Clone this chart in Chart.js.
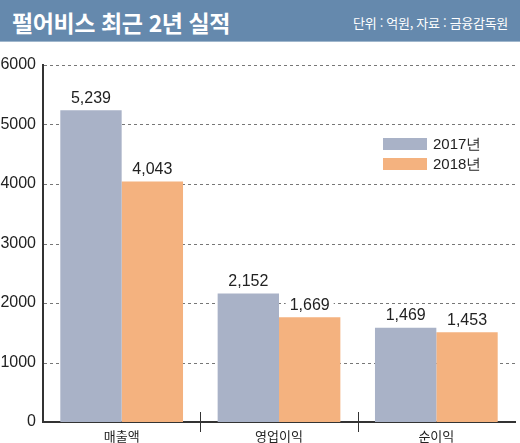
<!DOCTYPE html>
<html lang="ko">
<head>
<meta charset="utf-8">
<script src="https://cdn.jsdelivr.net/npm/chart.js@4"></script>
<style>
  html, body { margin: 0; padding: 0; background: #fff; }
  body { width: 520px; height: 443px; overflow: hidden; font-family: "Liberation Sans", "Noto Sans CJK KR", sans-serif; }
  .head { height: 41px; background: #6589ad; border-bottom: 1px solid #9fb6cc; position: relative; color: #fff; }
  .head h1 { margin: 0; position: absolute; left: 12px; top: 5px; font: bold 23px "Noto Sans CJK KR", sans-serif; letter-spacing: -0.4px; }
  .head span { position: absolute; right: 12px; top: 13px; font: 13px "Noto Sans CJK KR", sans-serif; letter-spacing: -0.3px; }
  .wrap { position: relative; width: 520px; height: 401px; }
</style>
</head>
<body>
<div class="head"><h1>펄어비스 최근 2년 실적</h1><span>단위 : 억원, 자료 : 금융감독원</span></div>
<div class="wrap"><canvas id="chart"></canvas></div>
<script>
const categories = ['매출액', '영업이익', '순이익'];
const seriesNames = ['2017년', '2018년'];
// bar heights as drawn in the picture
const bars2017 = [5239, 2160, 1585];
const bars2018 = [4043, 1760, 1507];
// printed value labels
const labels2017 = ['5,239', '2,152', '1,469'];
const labels2018 = ['4,043', '1,669', '1,453'];
const yTicks = [0, 1000, 2000, 3000, 4000, 5000, 6000];

const colores = ['#a9b2c7', '#f4b27f'];
const numFont = '"Liberation Sans", Arial, sans-serif';
const korFont = '"Noto Sans CJK KR", sans-serif';

// líneas punteadas detrás de las barras
const rejilla = {
  id: 'rejilla',
  beforeDatasetsDraw(chart) {
    const ctx = chart.ctx;
    const a = chart.chartArea;
    const y = chart.scales.y;
    ctx.save();
    ctx.strokeStyle = '#777';
    ctx.lineWidth = 1;
    ctx.setLineDash([3, 3]);
    yTicks.forEach(v => {
      if (v === 0) return;
      const py = Math.round(y.getPixelForValue(v)) + 0.5;
      ctx.beginPath();
      ctx.moveTo(a.left + 1, py);
      ctx.lineTo(a.right + 2, py);
      ctx.stroke();
    });
    ctx.restore();
  }
};

// etiquetas de valor con fondo blanco
const etiquetas = {
  id: 'etiquetas',
  afterDatasetsDraw(chart) {
    const ctx = chart.ctx;
    const textos = [labels2017, labels2018];
    ctx.save();
    ctx.font = '16px ' + numFont;
    ctx.textAlign = 'center';
    ctx.textBaseline = 'middle';
    chart.data.datasets.forEach((ds, i) => {
      chart.getDatasetMeta(i).data.forEach((bar, j) => {
        const t = textos[i][j];
        const y = bar.y - 12;
        const w = ctx.measureText(t).width + 8;
        ctx.fillStyle = '#fff';
        ctx.fillRect(bar.x - w / 2, y - 9, w, 18);
        ctx.fillStyle = '#222';
        ctx.fillText(t, bar.x, y);
      });
    });
    ctx.restore();
  }
};

// leyenda y marcas entre categorías
const extras = {
  id: 'extras',
  afterDraw(chart) {
    const ctx = chart.ctx;
    const a = chart.chartArea;
    const x = chart.scales.x;
    ctx.save();
    ctx.strokeStyle = '#333';
    ctx.lineWidth = 1;
    for (let i = 1; i < categories.length; i++) {
      const px = Math.round((x.getPixelForValue(i - 1) + x.getPixelForValue(i)) / 2) + 0.5;
      ctx.beginPath();
      ctx.moveTo(px, a.bottom - 10);
      ctx.lineTo(px, a.bottom + 10);
      ctx.stroke();
    }
    const lx = a.right - 132, ly = a.top + 73;
    ctx.font = '15px ' + numFont;
    ctx.textBaseline = 'middle';
    seriesNames.forEach((n, i) => {
      const y = ly + i * 20;
      ctx.fillStyle = colores[i];
      ctx.fillRect(lx, y, 44, 12);
      ctx.fillStyle = '#222';
      ctx.fillText(n, lx + 50, y + 6.5);
    });
    ctx.restore();
  }
};

new Chart(document.getElementById('chart'), {
  type: 'bar',
  data: {
    labels: categories,
    datasets: [
      { label: seriesNames[0], data: bars2017, backgroundColor: colores[0] },
      { label: seriesNames[1], data: bars2018, backgroundColor: colores[1] }
    ]
  },
  options: {
    responsive: true,
    maintainAspectRatio: false,
    animation: false,
    layout: { padding: { top: 23, right: 5, left: 0, bottom: 0 } },
    datasets: { bar: { categoryPercentage: 0.78, barPercentage: 1 } },
    plugins: { legend: { display: false }, tooltip: { enabled: false } },
    scales: {
      x: {
        afterFit: s => { s.height = 21; },
        grid: { display: false, drawTicks: false },
        border: { color: '#333', width: 2 },
        ticks: { color: '#222', padding: 6, font: { size: 13, family: korFont } }
      },
      y: {
        min: 0, max: 6000,
        afterFit: s => { s.width = 43; },
        afterBuildTicks: s => { s.ticks = yTicks.map(v => ({ value: v })); },
        border: { color: '#333', width: 2 },
        grid: { display: false, drawTicks: false },
        ticks: {
          color: '#222', padding: 7, font: { size: 16, family: numFont },
          callback: v => String(v)
        }
      }
    }
  },
  plugins: [rejilla, etiquetas, extras]
});
</script>
</body>
</html>
